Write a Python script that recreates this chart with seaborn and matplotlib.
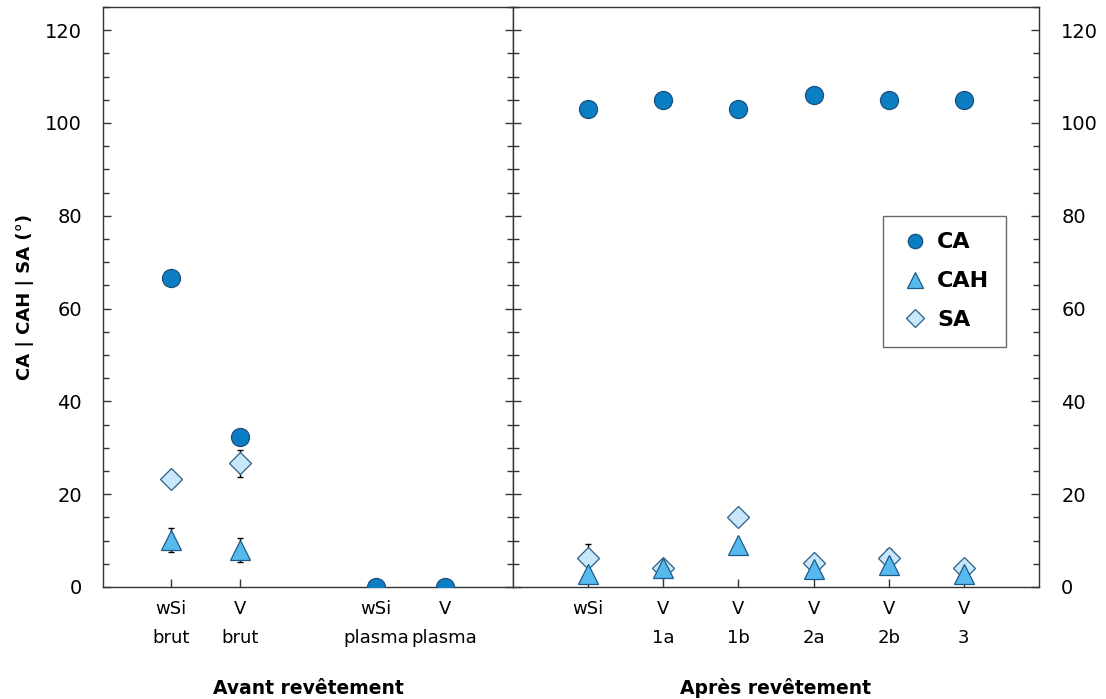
import numpy as np
import pandas as pd
import matplotlib
matplotlib.use("Agg")
import matplotlib.pyplot as plt
from matplotlib.ticker import MultipleLocator
import seaborn as sns

# Données
avant_labels = ["wSi\nbrut", "V\nbrut", "wSi\nplasma", "V\nplasma"]
avant_pos = [1, 2, 4, 5]
avant_ca = [66.7, 32.3, 0.0, 0.0]
avant_ca_err = [0.5, 0.5, 0.0, 0.0]
avant_cah = [10.1, 8.0, np.nan, np.nan]
avant_cah_err = [2.6, 2.6, 0.0, 0.0]
avant_sa = [23.3, 26.7, np.nan, np.nan]
avant_sa_err = [0.5, 2.9, 0.0, 0.0]

apres_labels = ["wSi", "V\n1a", "V\n1b", "V\n2a", "V\n2b", "V\n3"]
apres_pos = [1, 2, 3, 4, 5, 6]
apres_ca = [103.0, 105.0, 103.0, 106.0, 105.0, 105.0]
apres_ca_err = [0.5, 0.5, 0.5, 0.5, 0.5, 0.5]
apres_cah = [2.8, 4.0, 9.0, 3.8, 4.8, 2.9]
apres_cah_err = [0.5, 0.5, 0.5, 0.5, 0.5, 0.5]
apres_sa = [6.2, 4.2, 15.1, 5.2, 6.2, 4.2]
apres_sa_err = [3.0, 0.5, 0.5, 0.5, 2.0, 0.5]

series = ["CA", "CAH", "SA"]
markers = {"CA": "o", "CAH": "^", "SA": "D"}
sizes = {"CA": 13, "CAH": 14.5, "SA": 11}
faces = {"CA": "#0A7DC3", "CAH": "#56BAEF", "SA": "#C9E7FA"}
edges = {"CA": "#1B4F7C", "CAH": "#1D5A88", "SA": "#2B5F86"}

sns.set_theme(style="ticks")
plt.rcParams["font.family"] = ["DejaVu Sans"]
plt.rcParams["text.color"] = "black"
plt.rcParams["axes.labelcolor"] = "black"
plt.rcParams["xtick.color"] = "#333333"
plt.rcParams["ytick.color"] = "#333333"
plt.rcParams["xtick.labelcolor"] = "black"
plt.rcParams["ytick.labelcolor"] = "black"
plt.rcParams["xtick.direction"] = "in"
plt.rcParams["ytick.direction"] = "in"
plt.rcParams["axes.edgecolor"] = "#333333"
plt.rcParams["axes.linewidth"] = 1.0


def make_df(pos, ca, ca_err, cah, cah_err, sa, sa_err):
    rows = []
    for name, vals, errs in [("CA", ca, ca_err), ("CAH", cah, cah_err), ("SA", sa, sa_err)]:
        for p, v, e in zip(pos, vals, errs):
            rows.append({"x": p, "val": v, "err": e, "serie": name})
    return pd.DataFrame(rows).dropna()


def draw_panel(ax, df):
    # barres d'erreur derrière les marqueurs
    for name in series[::-1]:
        d = df[df["serie"] == name]
        ax.errorbar(d["x"], d["val"], yerr=d["err"], fmt="none", ecolor="black",
                    elinewidth=1.0, capsize=2.5, capthick=1.0, zorder=2)
    for name in series[::-1]:
        d = df[df["serie"] == name]
        ax.plot(d["x"], d["val"], linestyle="none", marker=markers[name],
                markersize=sizes[name], markerfacecolor=faces[name],
                markeredgecolor=edges[name], markeredgewidth=0.9, zorder=3,
                label=name)


fig = plt.figure(figsize=(11.06, 6.99), dpi=100)
ax1 = fig.add_axes([103 / 1106, 112 / 699, 410 / 1106, 580 / 699])
ax2 = fig.add_axes([513 / 1106, 112 / 699, 526 / 1106, 580 / 699], sharey=ax1)

df_avant = make_df(avant_pos, avant_ca, avant_ca_err, avant_cah, avant_cah_err,
                   avant_sa, avant_sa_err)
df_apres = make_df(apres_pos, apres_ca, apres_ca_err, apres_cah, apres_cah_err,
                   apres_sa, apres_sa_err)
draw_panel(ax1, df_avant)
draw_panel(ax2, df_apres)

ax1.set_xlim(0, 6)
ax2.set_xlim(0, 7)
ax1.set_ylim(0, 125)

ax1.set_xticks(avant_pos)
ax1.set_xticklabels(avant_labels, linespacing=1.85)
ax2.set_xticks(apres_pos)
ax2.set_xticklabels(apres_labels, linespacing=1.85)

for ax in (ax1, ax2):
    ax.yaxis.set_major_locator(MultipleLocator(20))
    ax.yaxis.set_minor_locator(MultipleLocator(5))
    ax.tick_params(axis="x", direction="in", length=6, width=1.0,
                   labelsize=13, pad=9)
    ax.tick_params(axis="y", which="major", direction="in", length=6, width=1.0,
                   labelsize=14)
    ax.tick_params(axis="y", which="minor", direction="in", length=4, width=1.0)
    for s in ax.spines.values():
        s.set_visible(True)
        s.set_color("#333333")

ax1.tick_params(axis="y", which="both", left=True, right=True, labelleft=True,
                labelright=False, pad=15)
ax2.tick_params(axis="y", which="both", left=True, right=True, labelleft=False,
                labelright=True, pad=16)

ax1.set_ylabel("CA | CAH | SA (°)", fontsize=13, fontweight="bold", labelpad=8)
ax1.set_xlabel("Avant revêtement", fontsize=13.5, fontweight="bold", va="baseline")
ax2.set_xlabel("Après revêtement", fontsize=13.5, fontweight="bold", va="baseline")
ax1.xaxis.set_label_coords(0.5, -0.185)
ax2.xaxis.set_label_coords(0.5, -0.185)

handles, labels = ax2.get_legend_handles_labels()
order = [labels.index(n) for n in series]
leg = ax2.legend([handles[i] for i in order], [labels[i] for i in order],
                 loc="upper right", bbox_to_anchor=(0.937, 0.64),
                 borderaxespad=0, frameon=True, fancybox=False,
                 edgecolor="#444444",
                 prop={"size": 16, "weight": "bold"}, markerscale=0.8,
                 handletextpad=0.3, borderpad=0.75, labelspacing=0.85,
                 handlelength=1.4)
leg.get_frame().set_linewidth(1.0)

fig.savefig("out.png", dpi=100)
